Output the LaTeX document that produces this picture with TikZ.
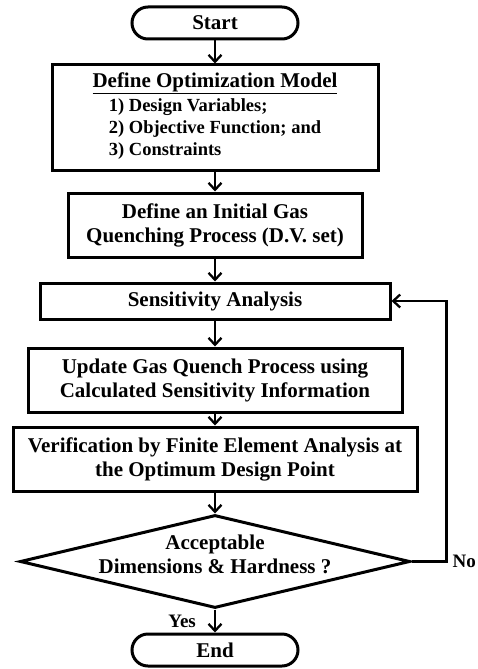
\documentclass[tikz,border=0pt]{standalone}
\usepackage{fontspec}
\setmainfont{Liberation Serif}
\usepackage{tikz}
\usetikzlibrary{shapes.geometric,arrows.meta}
\usetikzlibrary{positioning}
\newcommand{\listsize}{\fontsize{18.5}{22}\selectfont}
\tikzstyle{every node} = [font=\bfseries\fontsize{21}{24}\selectfont]
\tikzstyle{block} = [rectangle, draw, line width=3pt, align=center,
    inner sep=0pt]
\tikzstyle{terminal} = [rectangle, draw, line width=3pt, rounded corners=16pt,
    minimum width=166pt, minimum height=32pt, inner sep=0pt]
\tikzstyle{decision} = [diamond, draw, line width=3pt, aspect=4.2,
    minimum width=390pt, minimum height=93pt, inner sep=0pt]
\tikzstyle{answer} = [font=\bfseries\fontsize{19}{22}\selectfont, inner sep=2pt]
\tikzstyle{line} = [draw, line width=2.3pt, -{Straight Barb[length=7pt,width=13pt]}]

\begin{document}
\begin{tikzpicture}[x=1pt, y=-1pt]
  \useasboundingbox (0,0) rectangle (477,669);
  % Place nodes
  \node [terminal] (start) at (215,23) {Start};
  \node [block, below of=start, node distance=94.5pt,
         minimum width=326pt, minimum height=105pt] (model)
        {\underline{Define Optimization Model}\\
         {\listsize\begin{tabular}[t]{@{}l@{}}1) Design Variables;\\
          2) Objective Function; and\\ 3) Constraints\end{tabular}}};
  \node [block, below of=model, node distance=107.5pt,
         minimum width=294pt, minimum height=64pt] (initial)
        {Define an Initial Gas\\Quenching Process (D.V. set)};
  \node [block, below of=initial, node distance=76pt,
         minimum width=350pt, minimum height=36pt] (sens) {Sensitivity Analysis};
  \node [block, below of=sens, node distance=79pt,
         minimum width=374pt, minimum height=64pt] (update)
        {Update Gas Quench Process using\\Calculated Sensitivity Information};
  \node [block, below of=update, node distance=79pt,
         minimum width=404pt, minimum height=64pt] (verify)
        {Verification by Finite Element Analysis at\\the Optimum Design Point};
  \node [decision, below of=verify, node distance=102.5pt] (check)
        {\smash{\begin{tabular}{@{}c@{}}Acceptable\\
         Dimensions \& Hardness ?\end{tabular}}};
  \node [terminal, below of=check, node distance=88.5pt] (stop) {End};
  % Draw edges
  \path[line] (start) -- (model);
  \path[line] (model) -- (initial);
  \path[line] (initial) -- (sens);
  \path[line] (sens) -- (update);
  \path[line] (update) -- (verify);
  \path[line] (verify) -- (check);
  \path[line] (check) -- node[answer, left=16pt] {Yes} (stop);
  \path[line] (check.east) -- ++(35,0) node[answer, right=3pt] {No} |- (sens.east);

\end{tikzpicture}
\end{document}
